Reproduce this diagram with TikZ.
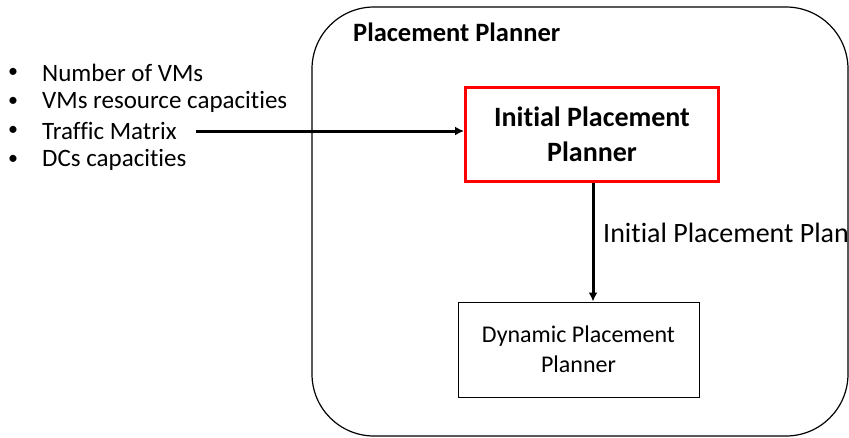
\documentclass[tikz,border=0pt]{standalone}
\usepackage{fontspec}
\setmainfont[Ligatures=NoCommon]{Carlito}
\usetikzlibrary{arrows.meta}
\begin{document}
\begin{tikzpicture}[x=1pt,y=-1pt,
  txt/.style={font=\fontsize{25}{29}\selectfont, inner sep=0pt},
  conn/.style={line width=3pt, -{Latex[length=9pt,width=9pt]}}]
\useasboundingbox (0,0) rectangle (849,437);
\draw[line width=1.2pt, rounded corners=62pt] (312,7) rectangle (848,436);
\node[inner sep=0pt, anchor=west, font=\fontsize{26.5}{30}\selectfont\bfseries] (title) at (353,32) {Placement Planner};
\node[draw=red, line width=3pt, minimum width=253pt, minimum height=94pt, inner sep=0pt, align=center, font=\fontsize{28}{35}\selectfont\bfseries] (ipp) at (592,134.5) {Initial Placement\\Planner};
\node[draw, line width=1pt, minimum width=241pt, minimum height=95pt, inner sep=0pt, align=center, font=\fontsize{24}{30}\selectfont] (dpp) at (578.5,349.5) {Dynamic Placement\\Planner};
\foreach \t/\y [count=\i] in {Number of VMs/73, VMs resource capacities/102, Traffic Matrix/131, DCs capacities/160}{
  \node[txt, anchor=west] (b\i) at (42,\y) {\t};
  \node[inner sep=0pt, font=\fontsize{20}{24}\selectfont] (d\i) at (13,\y) {\textbullet};
}
\coordinate (s) at (196,131);
\draw[conn] (s) -- (ipp.west |- s);
\draw[conn] (ipp.south -| 593,0) -- (dpp.north -| 593,0);
\node[inner sep=0pt, anchor=west, font=\fontsize{28}{32}\selectfont] (lbl) at (603,233) {Initial Placement Plan};
\end{tikzpicture}
\end{document}
